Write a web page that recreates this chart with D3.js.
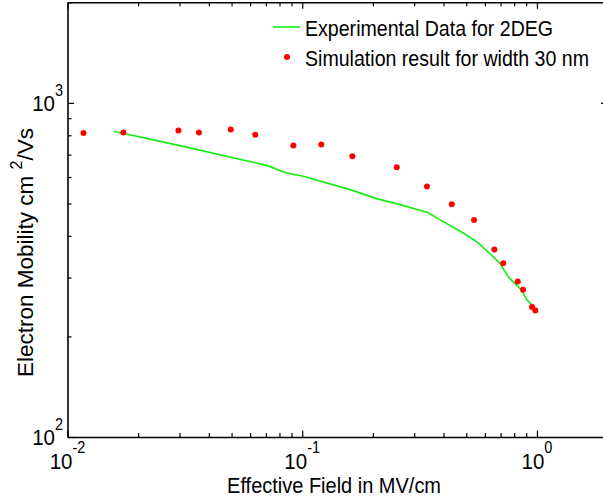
<!DOCTYPE html>
<html><head><meta charset="utf-8">
<script src="https://cdn.jsdelivr.net/npm/d3@7"></script>
<style>html,body{margin:0;padding:0;background:#fff;} svg{display:block;}</style>
</head><body>
<svg id="chart" width="603" height="504"></svg>
<script>
// ---- data ----
const simField    = [0.0117, 0.0173, 0.0297, 0.0363, 0.0496, 0.0631, 0.0917, 0.1206, 0.1635, 0.2527, 0.340, 0.4335, 0.5395, 0.6585, 0.719, 0.8283, 0.8726, 0.953, 0.9845];
const simMobility = [812, 816, 826, 816, 832, 803, 745, 750, 692, 642, 562, 497, 446, 364, 331, 292, 276, 245, 239];
const expField    = [0.0157, 0.0311, 0.0706, 0.0851, 0.1011, 0.1599, 0.2077, 0.261, 0.3425, 0.4127, 0.4858, 0.5627, 0.6963, 0.7553, 0.8616, 0.9046, 0.9654];
const expMobility = [822, 741, 650, 618, 603, 550, 517, 496, 470, 435, 408, 381, 331, 301, 275, 258, 246];
const xMajorTicks = [0.01, 0.1, 1];
const xTickExponents = ["-2", "-1", "0"];
const yMajorTicks = [100, 1000];
const yTickExponents = ["2", "3"];
const legendLabels = ["Experimental Data for 2DEG", "Simulation result for width 30 nm"];
const xAxisTitle = "Effective Field in MV/cm";
const yAxisTitle = ["Electron Mobility cm ", "2", "/Vs"];

(function () {
// ---- layout ----
const FONT = "'Liberation Sans', Arial, Helvetica, sans-serif";
const VS = 1.08; // vertical stretch of the reference lettering
const pL = 67.5, pR = 607.6, pT = 2.3, pB = 437;
const x = d3.scaleLog().domain([0.01, 2]).range([pL, pR]);
const y = d3.scaleLog().domain([100, 2000]).range([pB, pT]);

function minorTicks(majors, max) {
  const out = [];
  majors.forEach(d => { for (let k = 2; k <= 9; k++) { const v = d * k; if (v <= max * 1.0001) out.push(v); } });
  return out;
}
const xMinor = minorTicks(xMajorTicks, 2);
const yMinor = minorTicks(yMajorTicks, 2000);

const svg = d3.select("#chart");
svg.append("rect").attr("width", 603).attr("height", 504).attr("fill", "#fff");

const MAJ = 6.5, MIN = 4;
function drawAxis(gen, tr) {
  const g = svg.append("g").attr("transform", tr).call(gen);
  g.selectAll("line").attr("stroke", "#000").attr("stroke-width", 1.2);
  g.selectAll("text").remove();
  g.select(".domain").attr("stroke", "#000").attr("stroke-width", 1.6);
  return g;
}
drawAxis(d3.axisBottom(x).tickValues(xMajorTicks).tickSize(-MAJ).tickSizeOuter(0).tickFormat(() => ""), `translate(0,${pB})`);
drawAxis(d3.axisBottom(x).tickValues(xMinor).tickSize(-MIN).tickSizeOuter(0).tickFormat(() => ""), `translate(0,${pB})`).select(".domain").remove();
drawAxis(d3.axisTop(x).tickValues(xMajorTicks).tickSize(-MAJ).tickSizeOuter(0).tickFormat(() => ""), `translate(0,${pT})`);
drawAxis(d3.axisTop(x).tickValues(xMinor).tickSize(-MIN).tickSizeOuter(0).tickFormat(() => ""), `translate(0,${pT})`).select(".domain").remove();
drawAxis(d3.axisLeft(y).tickValues(yMajorTicks).tickSize(-MAJ).tickSizeOuter(0).tickFormat(() => ""), `translate(${pL},0)`);
drawAxis(d3.axisLeft(y).tickValues(yMinor).tickSize(-MIN).tickSizeOuter(0).tickFormat(() => ""), `translate(${pL},0)`).select(".domain").remove();
drawAxis(d3.axisRight(y).tickValues(yMajorTicks).tickSize(-MAJ).tickSizeOuter(0).tickFormat(() => ""), `translate(${pR},0)`);
drawAxis(d3.axisRight(y).tickValues(yMinor).tickSize(-MIN).tickSizeOuter(0).tickFormat(() => ""), `translate(${pR},0)`).select(".domain").remove();

function label(px, py, anchor, size) {
  return svg.append("text").attr("transform", `translate(${px},${py}) scale(1,${VS})`)
    .attr("text-anchor", anchor).attr("font-family", FONT).attr("font-size", size).attr("fill", "#000");
}

// tick labels
xMajorTicks.forEach((v, i) => {
  const t = label(x(v), 469, "middle", 20.5);
  t.append("tspan").text("10");
  t.append("tspan").attr("dy", -14.5).attr("font-size", 14.5).text(xTickExponents[i]);
});
yMajorTicks.forEach((v, i) => {
  const t = label(63, y(v) + 7.8, "end", 20.5);
  t.append("tspan").text("10");
  t.append("tspan").attr("dy", -13.5).attr("font-size", 14.5).text(yTickExponents[i]);
});

// axis titles
label((pL + pR) / 2 - 3.5, 493, "middle", 20).text(xAxisTitle);
const yt = svg.append("text").attr("transform", "translate(32.5,377) rotate(-90)")
  .attr("text-anchor", "start").attr("font-family", FONT).attr("font-size", 22.5).attr("fill", "#000");
yt.append("tspan").text(yAxisTitle[0]);
yt.append("tspan").attr("dy", -10.5).attr("font-size", 16).text(yAxisTitle[1]);
yt.append("tspan").attr("dy", 10.5).text(yAxisTitle[2]);

// data
const line = d3.line().x((d, i) => x(expField[i])).y((d, i) => y(expMobility[i]));
svg.append("path").datum(expField).attr("d", line)
  .attr("fill", "none").attr("stroke", "#11ee11").attr("stroke-width", 1.6);
svg.append("g").selectAll("circle").data(simField).join("circle")
  .attr("cx", d => x(d)).attr("cy", (d, i) => y(simMobility[i])).attr("r", 3).attr("fill", "#ff0000");

// legend
svg.append("line").attr("x1", 273).attr("x2", 300).attr("y1", 27).attr("y2", 27)
  .attr("stroke", "#11ee11").attr("stroke-width", 1.6);
svg.append("circle").attr("cx", 287).attr("cy", 57).attr("r", 3).attr("fill", "#ff0000");
legendLabels.forEach((s, i) => {
  label(305, 36 + 30 * i, "start", 19.6).text(s);
});
})();
</script>
</body></html>
